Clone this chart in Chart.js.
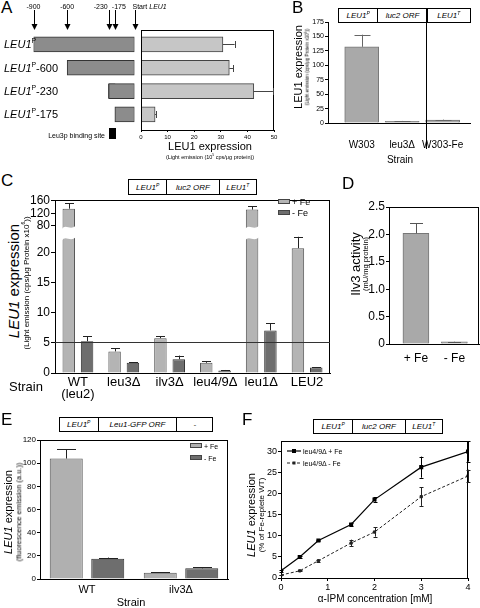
<!DOCTYPE html>
<html><head><meta charset="utf-8">
<script src="https://cdn.jsdelivr.net/npm/chart.js@4.4.1/dist/chart.umd.min.js"></script>
<style>
body{margin:0;width:480px;height:608px;position:relative;background:#fff;font-family:"Liberation Sans",Arial,sans-serif;color:#000;overflow:hidden}
.t{position:absolute;white-space:nowrap;line-height:1}
.c{transform:translate(-50%,-50%)}
.l{transform:translate(0,-50%)}
.rt{transform:translate(-100%,-50%)}
.r{transform:translate(-50%,-50%) rotate(-90deg)}
.hdr{position:absolute;display:flex;border:1px solid #000;box-sizing:border-box;background:#fff}
.hdr div{display:flex;align-items:center;justify-content:center;font-style:italic;font-size:8px;border-left:1px solid #000;box-sizing:border-box;height:100%}
.hdr div:first-child{border-left:none}
canvas{position:absolute}
sup{font-size:62%;vertical-align:top;line-height:1;position:relative;top:-1px}
.sw{position:absolute;border:1px solid #444;box-sizing:border-box}
</style>
</head><body>
<script>
// ---------------- DATA ----------------
const aConstructs = ['LEU1P','LEU1P-600','LEU1P-230','LEU1P-175'];
const aPromoterStart = [-900,-600,-230,-175];
const aBindingSite = [-230,-175];
const aArrowPos = [-900,-600,-230,-175,0];
const aArrowLabels = ['-900','-600','-230','-175','Start <i>LEU1</i>'];
const aExpression = [30.8,33.2,42.4,5.3];
const aErr = [4.4,1.4,7.2,0.5];
const aTicks = [0,10,20,30,40,50];

const bStrains = ['W303','leu3Δ','W303-Fe'];
const bExpression = [132,3,5];
const bErr = [21,0.6,0.8];
const bTicks = [0,25,50,75,100,125,150,175];

const cStrains = [['WT','(leu2)'],'leu3Δ','ilv3Δ','leu4/9Δ','leu1Δ','LEU2'];
const cPlusFe = [135,3.6,5.8,1.7,132,20.8];
const cPlusFeErr = [17,0.5,0.3,0.3,10,1.9];
const cMinusFe = [5.3,1.7,2.3,0.4,7.1,0.9];
const cMinusFeErr = [0.8,0.1,0.6,0.1,1.2,0.1];
const cTicks = [0,5,10,15,20,80,120,160];
const cReferenceLevel = 5.2;

const dConditions = ['+ Fe','- Fe'];
const dActivity = [2.02,0.04];
const dErr = [0.18,0.005];
const dTicks = [0,0.5,1.0,1.5,2.0,2.5];
const dTickLabels = ['0','0.5','1.0','1.5','2.0','2.5'];

const eStrains = ['WT','ilv3Δ'];
const ePlusFe = [104,5.5];
const ePlusFeErr = [8,0.4];
const eMinusFe = [17.5,9.2];
const eMinusFeErr = [1,0.8];
const eTicks = [0,20,40,60,80,100,120];

const fIPM = [0,0.4,0.8,1.5,2,3,4];
const fPlusFe = [1.7,5.0,8.9,12.7,18.6,26.3,30.0];
const fPlusFeErr = [0.2,0.2,0.2,0.4,0.5,2.5,2.4];
const fMinusFe = [0.7,1.7,4.1,8.3,10.9,19.3,24.2];
const fMinusFeErr = [0.1,0.1,0.2,0.8,1.1,2.2,1.5];
const fYTicks = [0,5,10,15,20,25,30];
const fXTicks = [0,1,2,3,4];

// ---------------- HELPERS ----------------
const FONT = '"Liberation Sans", Arial, sans-serif';
Chart.defaults.font.family = FONT;
Chart.defaults.color = '#000';
Chart.defaults.plugins.legend.display = false;
Chart.defaults.plugins.tooltip.enabled = false;

function txt(html,x,y,size,cls,extra){const d=document.createElement('div');d.className='t '+(cls||'');d.style.left=x+'px';d.style.top=y+'px';d.style.fontSize=size+'px';if(extra)d.style.cssText+=extra;d.innerHTML=html;document.body.appendChild(d);return d;}
function header(x,y,w,h,cells){const d=document.createElement('div');d.className='hdr';d.style.cssText+=`left:${x}px;top:${y}px;width:${w}px;height:${h}px`;cells.forEach(c=>{const e=document.createElement('div');e.style.width=c[0]+'px';e.innerHTML=c[1];d.appendChild(e);});document.body.appendChild(d);}
function swatch(x,y,w,h,col){const d=document.createElement('div');d.className='sw';d.style.cssText+=`left:${x}px;top:${y}px;width:${w}px;height:${h}px;background:${col}`;document.body.appendChild(d);}
function canvas(x,y,w,h){const c=document.createElement('canvas');c.width=w;c.height=h;c.style.left=x+'px';c.style.top=y+'px';c.style.width=w+'px';c.style.height=h+'px';document.body.appendChild(c);return c;}
const fmt = s => s.replace('LEU1P','<i>LEU1</i><sup>P</sup>');

const boxPlugin={id:'box',afterDatasetsDraw(ch,a,o){if(!o||!o.on)return;const {left,top,right,bottom}=ch.chartArea;const ctx=ch.ctx;ctx.save();ctx.strokeStyle='#000';ctx.lineWidth=1;ctx.strokeRect(Math.round(left)+0.5,Math.round(top)+0.5,Math.round(right-left)-1,Math.round(bottom-top));ctx.restore();}};
const errPlugin={id:'errbars',afterDatasetsDraw(ch){
  const ctx=ch.ctx;const horiz=ch.options.indexAxis==='y';
  ch.data.datasets.forEach((ds,di)=>{
    if(!ds.errTop)return;const meta=ch.getDatasetMeta(di);const vs=horiz?ch.scales.x:ch.scales.y;
    ctx.save();ctx.strokeStyle=ds.errColor||'#222';ctx.lineWidth=1;ctx.setLineDash([]);
    meta.data.forEach((el,i)=>{
      const hi=ds.errTop[i];if(hi==null)return;const cap=(ds.errCap||6)/2;
      const pHi=vs.getPixelForValue(hi);
      const pLo=ds.errBot?vs.getPixelForValue(ds.errBot[i]):(horiz?el.x:el.y);
      ctx.beginPath();
      if(horiz){const y=Math.round(el.y)+0.5;ctx.moveTo(pLo,y);ctx.lineTo(pHi,y);const x=Math.round(pHi)+0.5;ctx.moveTo(x,y-cap);ctx.lineTo(x,y+cap);}
      else{const x=Math.round(el.x)+0.5;ctx.moveTo(x,pLo);ctx.lineTo(x,pHi);const y=Math.round(pHi)+0.5;ctx.moveTo(x-cap,y);ctx.lineTo(x+cap,y);
        if(ds.errBot){const y2=Math.round(pLo)+0.5;ctx.moveTo(x-cap,y2);ctx.lineTo(x+cap,y2);}}
      ctx.stroke();
    });ctx.restore();
  });
}};
const breakPlugin={id:'brk',afterDatasetsDraw(ch,a,o){
  if(!o||!o.on)return;const ys=ch.scales.y;const ctx=ch.ctx;
  const yT=ys.getPixelForValue(o.top),yB=ys.getPixelForValue(o.bottom);
  ch.data.datasets.forEach((ds,di)=>{if(!ds.raw)return;
    ch.getDatasetMeta(di).data.forEach((el,i)=>{if(ds.raw[i]<=o.threshold)return;
      const w=el.width;const xl=el.x-w/2-1,xr=el.x+w/2+1;
      ctx.save();ctx.beginPath();ctx.moveTo(xl,yT+3);ctx.bezierCurveTo(xl+w*0.35,yT-4,xl+w*0.65,yT+5,xr,yT-1);
      ctx.lineTo(xr,yB-1);ctx.bezierCurveTo(xl+w*0.65,yB+5,xl+w*0.35,yB-4,xl,yB+3);ctx.closePath();
      ctx.fillStyle='#fff';ctx.fill();ctx.restore();});
  });
}};
const hlinePlugin={id:'hline',afterDatasetsDraw(ch,a,o){if(!o||o.value==null)return;const ctx=ch.ctx;const y=Math.round(ch.scales.y.getPixelForValue(o.value))+0.5;
  ctx.save();ctx.strokeStyle='#333';ctx.lineWidth=1;ctx.beginPath();ctx.moveTo(ch.chartArea.left,y);ctx.lineTo(ch.chartArea.right,y);ctx.stroke();ctx.restore();}};
const arrowPlugin={id:'arrows',afterDraw(ch,a,o){if(!o||!o.pos)return;const ctx=ch.ctx;const xs=ch.scales.x;
  ctx.save();ctx.strokeStyle='#000';ctx.fillStyle='#000';ctx.lineWidth=1;
  o.pos.forEach(p=>{const x=Math.round(xs.getPixelForValue(p))+0.5;ctx.beginPath();ctx.moveTo(x,o.y0);ctx.lineTo(x,o.y1-5);ctx.stroke();
    ctx.beginPath();ctx.moveTo(x-3,o.y1-6);ctx.lineTo(x+3,o.y1-6);ctx.lineTo(x,o.y1);ctx.closePath();ctx.fill();});
  ctx.restore();}};
Chart.register(boxPlugin,errPlugin,breakPlugin,hlinePlugin,arrowPlugin);

const base=()=>({responsive:false,animation:false,devicePixelRatio:1,events:[]});
const yGrid={display:true,drawOnChartArea:false,drawTicks:true,tickLength:3,color:'#000'};
const noGrid={display:false,drawTicks:false,offset:false};

// ---------------- PANEL A ----------------
txt('A',1,-1,17);
const diag=new Chart(canvas(0,0,140,140),{type:'bar',
  data:{datasets:[
    {data:aPromoterStart.map((s,i)=>({x:[s,0],y:i})),backgroundColor:'#8c8c8c',borderColor:'#333',borderWidth:1,borderSkipped:false,barThickness:15,grouped:false},
    {data:aPromoterStart.map((s,i)=>s<=aBindingSite[0]?{x:aBindingSite,y:i}:null).filter(Boolean),backgroundColor:'#000',borderWidth:0,barThickness:14,grouped:false}
  ]},
  options:Object.assign(base(),{indexAxis:'y',layout:{padding:{left:33.5,right:5.5,top:30,bottom:10}},
    scales:{x:{type:'linear',display:false,min:-900,max:0},y:{type:'linear',display:false,offset:false,min:-0.62,max:3.67,reverse:true,grid:{offset:false}}},
    plugins:{arrows:{pos:aArrowPos,y0:10,y1:30}}})});
aArrowPos.forEach((p,i)=>{const px=diag.scales.x.getPixelForValue(p);
  if(i===2) txt(aArrowLabels[i],px-1,5.5,7,'rt');
  else if(i===3) txt(aArrowLabels[i],px-3,5.5,7,'l');
  else if(i===4) txt(aArrowLabels[i],px-2,5.5,7,'l');
  else txt(aArrowLabels[i],px,5.5,7,'c');});
aConstructs.forEach((n,i)=>{txt(fmt(n),4,diag.scales.y.getPixelForValue(i),11,'l');});
txt('Leu3p binding site',105,135,7,'rt');
const bs=document.createElement('div');bs.style.cssText='position:absolute;left:109px;top:128px;width:7px;height:11px;background:#000';document.body.appendChild(bs);

new Chart(canvas(121,25,159,125),{type:'bar',
  data:{datasets:[{data:aExpression.map((v,i)=>({x:v,y:i})),backgroundColor:'#c6c6c6',borderColor:'#444',borderWidth:1,barThickness:15,
    errTop:aExpression.map((v,i)=>v+aErr[i]),errCap:7,errColor:'#444'}]},
  options:Object.assign(base(),{indexAxis:'y',layout:{padding:{left:20,right:6,top:5,bottom:0}},
    scales:{
      x:{type:'linear',min:0,max:50,afterBuildTicks:s=>{s.ticks=aTicks.map(v=>({value:v}));},afterFit:s=>{s.height=20;},
        ticks:{font:{size:6},padding:2,autoSkip:false},grid:{display:true,drawOnChartArea:false,drawTicks:true,tickLength:2,color:'#000'},border:{color:'#000'}},
      y:{type:'linear',display:false,offset:false,min:-0.62,max:3.67,reverse:true,grid:{offset:false}}},
    plugins:{box:{on:true}}})});
txt('LEU1 expression',210,146,11,'c');
txt('(Light emission (10<sup>5</sup> cps/μg protein))',210,158,5.5,'c');

// ---------------- PANEL B ----------------
txt('B',292,-1,17);
header(338,8,133,15,[[39,'LEU1<sup>P</sup>'],[50,'luc2 ORF'],[44,'LEU1<sup>T</sup>']]);
new Chart(canvas(305,15,175,140),{type:'bar',
  data:{datasets:[{data:bExpression.map((v,i)=>({x:i,y:v})),backgroundColor:'#a9a9a9',borderColor:'#777',borderWidth:1,barThickness:34,
    errTop:bExpression.map((v,i)=>v+bErr[i]),errCap:16,errColor:'#666'}]},
  options:Object.assign(base(),{layout:{padding:{left:0,right:4,top:7,bottom:0}},
    scales:{
      x:{type:'linear',offset:false,min:-0.833,max:2.69,afterBuildTicks:s=>{s.ticks=bStrains.map((n,i)=>({value:i}));},afterFit:s=>{s.height=32;},
        ticks:{font:{size:10},padding:16,autoSkip:false,maxRotation:0,callback:(v,i)=>bStrains[i]},grid:noGrid,border:{color:'#000'}},
      y:{type:'linear',min:0,max:175,afterBuildTicks:s=>{s.ticks=bTicks.map(v=>({value:v}));},afterFit:s=>{s.width=23;},
        ticks:{font:{size:7},padding:1,autoSkip:false},grid:yGrid,border:{color:'#000'}}}})});
const sep=document.createElement('div');sep.style.cssText='position:absolute;left:426px;top:8px;width:1px;height:141px;background:#000';document.body.appendChild(sep);
txt('LEU1 expression',298,67,11,'r');
txt('(Light emission (cps/μg Protein x10<sup>6</sup>))',308,67,4.6,'r');
txt('Strain',400,160,10,'c');

// ---------------- PANEL C ----------------
txt('C',1,172,17);
header(128,179,129,16,[[38,'LEU1<sup>P</sup>'],[53,'luc2 ORF'],[38,'LEU1<sup>T</sup>']]);
const brk=v=>v<=40?v:24.5+(v-80)*2.1/40;
new Chart(canvas(28,190,307,215),{type:'bar',
  data:{labels:cStrains,datasets:[
    {data:cPlusFe.map(brk),raw:cPlusFe,errTop:cPlusFe.map((v,i)=>brk(v+cPlusFeErr[i])),errCap:9,backgroundColor:'#b4b4b4',borderColor:'#555',borderWidth:1,barPercentage:0.68,categoryPercentage:0.8},
    {data:cMinusFe.map(brk),raw:cMinusFe,errTop:cMinusFe.map((v,i)=>brk(v+cMinusFeErr[i])),errCap:9,backgroundColor:'#6e6e6e',borderColor:'#333',borderWidth:1,barPercentage:0.68,categoryPercentage:0.8}]},
  options:Object.assign(base(),{layout:{padding:{left:0,right:5,top:10,bottom:0}},
    scales:{
      x:{type:'category',offset:true,afterFit:s=>{s.height=32;},ticks:{font:{size:13,lineHeight:0.95},padding:3,autoSkip:false,maxRotation:0},grid:{display:false,drawTicks:false},border:{color:'#000'}},
      y:{type:'linear',min:0,max:brk(162.5),afterBuildTicks:s=>{s.ticks=cTicks.map(v=>({value:brk(v)}));},afterFit:s=>{s.width=27;},
        ticks:{font:{size:12},padding:1,autoSkip:false,callback:(v,i)=>cTicks[i]},grid:{display:true,drawOnChartArea:false,drawTicks:true,tickLength:4,color:'#000'},border:{color:'#000'}}},
    plugins:{box:{on:true},brk:{on:true,top:24.4,bottom:22.5,threshold:40},hline:{value:brk(cReferenceLevel)}}})});
txt('<i>LEU1</i> expression',13,281,15,'r');
txt('(Light emission (cps/μg Protein x10<sup>6</sup>))',27,283,8,'r');
swatch(278,199,12,5,'#b4b4b4');txt('+ Fe',292,201.5,9,'l');
swatch(278,210,12,5,'#6e6e6e');txt('- Fe',292,212.5,9,'l');
txt('Strain',9,380,13);

// ---------------- PANEL D ----------------
txt('D',342,175,17);
new Chart(canvas(360,198,120,172),{type:'bar',
  data:{datasets:[{data:dActivity.map((v,i)=>({x:i,y:v})),backgroundColor:'#a9a9a9',borderColor:'#777',borderWidth:1,barThickness:26,
    errTop:dActivity.map((v,i)=>v+dErr[i]),errCap:13,errColor:'#555'}]},
  options:Object.assign(base(),{layout:{padding:{left:0,right:1,top:9,bottom:0}},
    scales:{
      x:{type:'linear',offset:false,min:-0.7,max:1.64,afterBuildTicks:s=>{s.ticks=dConditions.map((n,i)=>({value:i}));},afterFit:s=>{s.height=26;},
        ticks:{font:{size:12},padding:7,autoSkip:false,maxRotation:0,callback:(v,i)=>dConditions[i]},grid:noGrid,border:{color:'#000'}},
      y:{type:'linear',min:0,max:2.5,afterBuildTicks:s=>{s.ticks=dTicks.map(v=>({value:v}));},afterFit:s=>{s.width=29;},
        ticks:{font:{size:12},padding:1,autoSkip:false,callback:(v,i)=>dTickLabels[i]},grid:yGrid,border:{color:'#000'}}},
    plugins:{box:{on:true}}})});
txt('Ilv3 activity',355,264,13,'r');
txt('(mU/mg protein)',366,264,7.5,'r');

// ---------------- PANEL E ----------------
txt('E',1,411,17);
header(59,417,154,15,[[38,'LEU1<sup>P</sup>'],[80,'Leu1-GFP ORF'],[36,'-']]);
new Chart(canvas(16,432,217,176),{type:'bar',
  data:{labels:eStrains,datasets:[
    {data:ePlusFe,errTop:ePlusFe.map((v,i)=>v+ePlusFeErr[i]),errCap:19,backgroundColor:'#b0b0b0',borderColor:'#555',borderWidth:1,barPercentage:0.795,categoryPercentage:0.883},
    {data:eMinusFe,errTop:eMinusFe.map((v,i)=>v+eMinusFeErr[i]),errCap:19,backgroundColor:'#6e6e6e',borderColor:'#333',borderWidth:1,barPercentage:0.795,categoryPercentage:0.883}]},
  options:Object.assign(base(),{layout:{padding:{left:0,right:5,top:8,bottom:0}},
    scales:{
      x:{type:'category',offset:true,afterFit:s=>{s.height=29;},ticks:{font:{size:11},padding:4,autoSkip:false,maxRotation:0},grid:{display:false,drawTicks:false},border:{color:'#000'}},
      y:{type:'linear',min:0,max:120,afterBuildTicks:s=>{s.ticks=eTicks.map(v=>({value:v}));},afterFit:s=>{s.width=24;},
        ticks:{font:{size:8},padding:1,autoSkip:false},grid:yGrid,border:{color:'#000'}}},
    plugins:{box:{on:true}}})});
txt('<i>LEU1</i> expression',8,512,11,'r');
txt('(fluorescence emission (a.u.))',19,512,7.5,'r');
swatch(190,443,12,5,'#b0b0b0');txt('+ Fe',204,445.5,7,'l');
swatch(190,455,12,5,'#6e6e6e');txt('- Fe',204,457.5,7,'l');
txt('Strain',131,602,11,'c');

// ---------------- PANEL F ----------------
txt('F',242,411,17);
header(313,419,130,15,[[39,'LEU1<sup>P</sup>'],[53,'luc2 ORF'],[38,'LEU1<sup>T</sup>']]);
new Chart(canvas(258,434,218,161),{type:'scatter',
  data:{datasets:[
    {data:fIPM.map((x,i)=>({x,y:fPlusFe[i]})),showLine:true,borderColor:'#000',backgroundColor:'#000',borderWidth:1.2,pointStyle:'rect',pointRadius:2,
      errTop:fPlusFe.map((v,i)=>v+fPlusFeErr[i]),errBot:fPlusFe.map((v,i)=>v-fPlusFeErr[i]),errCap:4,errColor:'#000'},
    {data:fIPM.map((x,i)=>({x,y:fMinusFe[i]})),showLine:true,borderColor:'#222',backgroundColor:'#222',borderWidth:1,borderDash:[3,2],pointStyle:'rect',pointRadius:1.6,
      errTop:fMinusFe.map((v,i)=>v+fMinusFeErr[i]),errBot:fMinusFe.map((v,i)=>v-fMinusFeErr[i]),errCap:4,errColor:'#222'}]},
  options:Object.assign(base(),{layout:{padding:{left:0,right:8,top:7,bottom:0}},
    scales:{
      x:{type:'linear',min:0,max:4,afterBuildTicks:s=>{s.ticks=fXTicks.map(v=>({value:v}));},afterFit:s=>{s.height=17;},
        ticks:{font:{size:9},padding:1,autoSkip:false,maxRotation:0},grid:{display:true,drawOnChartArea:false,drawTicks:true,tickLength:3,color:'#000'},border:{color:'#000'}},
      y:{type:'linear',min:0,max:32.5,afterBuildTicks:s=>{s.ticks=fYTicks.map(v=>({value:v}));},afterFit:s=>{s.width=23;},
        ticks:{font:{size:9},padding:1,autoSkip:false},grid:yGrid,border:{color:'#000'}}},
    plugins:{box:{on:true}}})});
txt('<i>LEU1</i> expression',251,515,11,'r');
txt('(% of Fe-replete WT)',262,515,8,'r');
const lg=document.createElement('div');lg.style.cssText='position:absolute;left:286px;top:446px;width:16px;height:22px';
lg.innerHTML='<svg width="16" height="22"><line x1="1" y1="5" x2="15" y2="5" stroke="#000" stroke-width="1.2"/><rect x="6" y="3" width="4" height="4" fill="#000"/><line x1="1" y1="17" x2="15" y2="17" stroke="#222" stroke-width="1" stroke-dasharray="3,2"/><rect x="6.5" y="15.5" width="3" height="3" fill="#222"/></svg>';
document.body.appendChild(lg);
txt('leu4/9Δ + Fe',303,451,7,'l');
txt('leu4/9Δ - Fe',303,463,7,'l');
txt('α-IPM concentration [mM]',375,599,10,'c');
</script>
</body></html>
